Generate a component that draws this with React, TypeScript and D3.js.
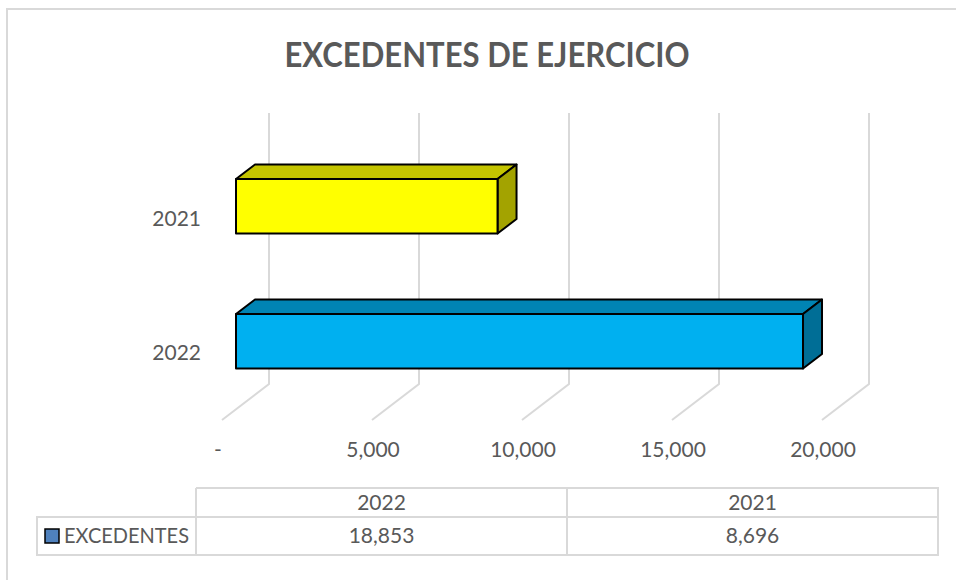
import React from "react";
import * as d3 from "d3";

const title = "EXCEDENTES DE EJERCICIO";
const categories = ["2021", "2022"];
const values = [8696, 18853];
const tableYears = ["2022", "2021"];
const tableValues = [18853, 8696];
const seriesName = "EXCEDENTES";
const ticks = [0, 5000, 10000, 15000, 20000];
const frontColors = ["#ffff00", "#00b0f0"];
const topColors = ["#c4c400", "#0084b4"];
const sideColors = ["#a3a300", "#006e96"];

const W = 956, H = 580;
const FONT = "Lato, 'Open Sans', sans-serif";
const grid = "#d9d9d9";
const textC = "#595959";
const dx = 19, dy = 14.5;

export default function App() {
  const x = d3.scaleLinear().domain([0, 20000]).range([236, 837.5]);
  const xGridBack = d3.scaleLinear().domain([0, 20000]).range([269, 869]);
  const xGridFront = d3.scaleLinear().domain([0, 20000]).range([222, 822]);
  const fmt = (v: number) => (v === 0 ? "-" : d3.format(",")(v));
  const bh = 54.5;
  const yFront: Record<string, number> = { "2021": 179, "2022": 314 };
  const labelY: Record<string, number> = { "2021": 226, "2022": 360 };
  const colX = [196, 567, 938];
  const rowY = [488, 517, 555];
  return (
    <svg width={W} height={H} style={{ position: "fixed", left: 0, top: 0 }} fontFamily={FONT}>
      <rect width={W} height={H} fill="#fff" />
      <path d={`M956,9H7V580`} fill="none" stroke={grid} strokeWidth={2} />
      <text x={487} y={66.5} textAnchor="middle" fontSize={33.5} fontWeight={700} fill={textC}
        textLength={405} lengthAdjust="spacingAndGlyphs">{title}</text>
      {ticks.map((t) => (
        <g key={t}>
          <path
            d={`M${xGridBack(t)},113V384L${xGridFront(t)},420`}
            fill="none" stroke={grid} strokeWidth={2}
          />
          <text x={xGridFront(t) + (t === 0 ? -4 : 1)} y={457} textAnchor="middle" fontSize={21} fill={textC}>{fmt(t)}</text>
        </g>
      ))}
      {categories.map((c, i) => {
        const x0 = x(0), x1 = x(values[i]), y0 = yFront[c], y1 = y0 + bh;
        return (
          <g key={c} stroke="#000" strokeWidth={2} strokeLinejoin="round">
            <path d={`M${x0},${y0}L${x0 + dx},${y0 - dy}H${x1 + dx}L${x1},${y0}Z`} fill={topColors[i]} />
            <path d={`M${x1},${y0}L${x1 + dx},${y0 - dy}V${y1 - dy}L${x1},${y1}Z`} fill={sideColors[i]} />
            <rect x={x0} y={y0} width={x1 - x0} height={bh} fill={frontColors[i]} />
            <text x={201} y={labelY[c]} textAnchor="end" fontSize={21} fill={textC} stroke="none">{c}</text>
          </g>
        );
      })}
      <g fill="none" stroke={grid} strokeWidth={2}>
        <path d={`M${colX[0]},${rowY[0]}H${colX[2]}V${rowY[2]}H37V${rowY[1]}H${colX[2]}`} />
        {colX.slice(0, 2).map((cx) => (
          <path key={cx} d={`M${cx},${rowY[0]}V${rowY[2]}`} />
        ))}
      </g>
      {tableYears.map((yr, i) => (
        <g key={yr} fontSize={21} fill={textC} textAnchor="middle">
          <text x={(colX[i] + colX[i + 1]) / 2} y={510}>{yr}</text>
          <text x={(colX[i] + colX[i + 1]) / 2} y={543}>{fmt(tableValues[i])}</text>
        </g>
      ))}
      <rect x={45} y={529} width={14} height={14} fill="#4f81bd" stroke="#000" strokeWidth={1.5} />
      <text x={64} y={543} fontSize={21} fill={textC} textLength={125} lengthAdjust="spacingAndGlyphs">{seriesName}</text>
    </svg>
  );
}
